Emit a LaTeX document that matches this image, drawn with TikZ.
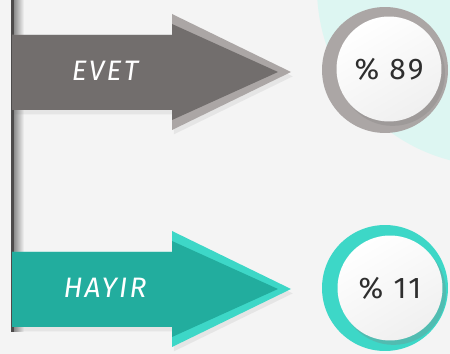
\documentclass[tikz,border=0pt]{standalone}
\usepackage{fontspec}
\newfontfamily\handfont{Fira Sans}[LetterSpace=8]
\usepackage{xcolor}
\usetikzlibrary{positioning,shadows}

\definecolor{bgGray}{HTML}{F4F4F4}
\definecolor{softCyan}{HTML}{DDF6F2}
\definecolor{barGray}{HTML}{4D4B4B}
\definecolor{yesBody}{HTML}{726E6D}
\definecolor{yesEdge}{HTML}{ABA6A5}
\definecolor{noBody}{HTML}{22AD9E}
\definecolor{noEdge}{HTML}{3DD7C7}
\definecolor{numText}{HTML}{2E2E2E}

\begin{document}
\begin{tikzpicture}[x=0.02cm, y=-0.02cm,
    arrowshadow/.style={drop shadow={shadow xshift=1pt, shadow yshift=-2.5pt, opacity=.12}},
    tag/.style={text=white, font=\handfont\itshape\fontsize{16}{16}\selectfont},
    ring/.style={circle, inner sep=0pt, minimum size=2.52cm},
    disc/.style={circle, inner sep=0pt, minimum size=2.1cm, text=numText,
        top color=white, bottom color=gray!12, shading angle=30,
        drop shadow={shadow xshift=2pt, shadow yshift=-2.5pt, opacity=.3},
        font=\handfont\fontsize{17}{17}\selectfont}]

    % background
    \useasboundingbox[fill=bgGray] (0,0) rectangle (450,354);
    \fill[softCyan] (495,-12) circle (178);

    % left bar
    \shade[left color=black!45, right color=bgGray] (14,0) rectangle (24,332);
    \fill[barGray] (11,0) rectangle (14,332);

    % EVET arrow
    \fill[yesEdge, arrowshadow] (12,35) -- (172,35) -- (172,14) -- (291,72)
        -- (172,130) -- (172,110) -- (12,110) -- cycle;
    \fill[yesBody] (12,35) -- (172,35) -- (172,24) -- (278,72)
        -- (172,120) -- (172,110) -- (12,110) -- cycle;
    \node[tag] (yesLabel) at (105,71) {EVET};

    % HAYIR arrow
    \fill[noEdge, arrowshadow] (12,252) -- (172,252) -- (172,231) -- (291,289)
        -- (172,347) -- (172,327) -- (12,327) -- cycle;
    \fill[noBody] (12,252) -- (172,252) -- (172,241) -- (278,289)
        -- (172,337) -- (172,327) -- (12,327) -- cycle;
    \node[tag] (noLabel) at (105,288) {HAYIR};

    % percentages
    \node[ring, fill=yesEdge] (yesRing) at (385,70) {};
    \node[disc] (yesDisc) at (389,69) {\% 89};

    \node[ring, fill=noEdge] (noRing) at (385,288) {};
    \node[disc] (noDisc) at (390,288) {\% 11};
\end{tikzpicture}
\end{document}
